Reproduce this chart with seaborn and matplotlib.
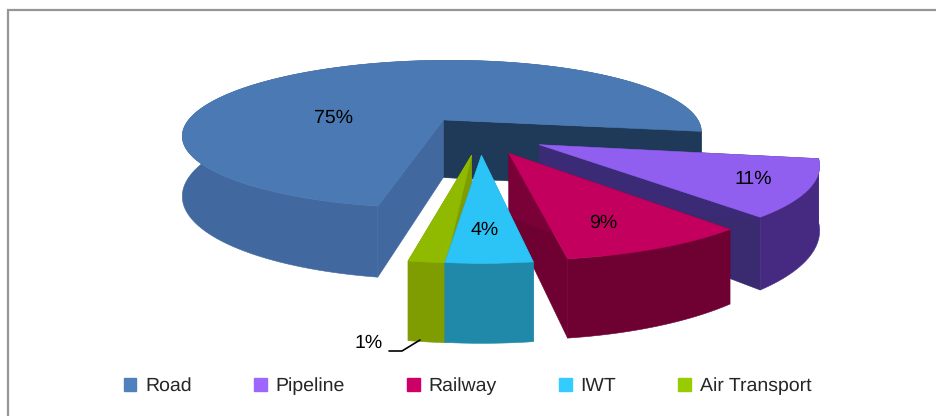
import numpy as np
import matplotlib
matplotlib.use("Agg")
import matplotlib.pyplot as plt
from matplotlib.patches import Patch, Polygon
import seaborn as sns

# Data
categories = ["Road", "Pipeline", "Railway", "IWT", "Air Transport"]
shares = [74.6, 11, 9, 4, 1.4]
legend_colors = ["#4f81bd", "#9f66ff", "#cc0066", "#33ccff", "#99cc00"]
top_colors = ["#4a79b3", "#915ff0", "#c4005e", "#2cc3f6", "#8fba00"]
rim_colors = ["#41699f", "#462a82", "#6e0032", "#2088a8", "#7f9c00"]
radial_start_colors = ["#1f3a58", "#3a2a70", "#6e0032", "#2088a8", "#7f9c00"]
radial_end_colors = ["#41699f", "#3b2a75", "#7a0038", "#2088a8", "#7f9c00"]

# Projection of the exploded 3-D pie
CX, CY, A, B, K, EXPLODE, HEIGHT = 480, 135, 265, 77, 0.20, 0.25, 60
START = -9.6  # angle where the second slice begins, degrees
ANGLE_NUDGE = [0.6, 0, 0, 0, 2.2]
SPAN_EXTRA = [0, 0, 0, 0, 1.2]

sns.set_theme(style="white")
plt.rcParams["font.family"] = ["Liberation Sans", "DejaVu Sans"]
plt.rcParams["text.hinting"] = "no_hinting"
FS = 14

fig = plt.figure(figsize=(9.36, 4.16), dpi=100, facecolor="white")
ax = fig.add_axes([0, 0, 1, 1])
ax.set_xlim(0, 936)
ax.set_ylim(416, 0)
ax.axis("off")
ax.plot([7.5, 7.5, 936], [416, 10, 10], color="#969696", lw=1.6, solid_joinstyle="miter")


def project(X, Y):
    s = 1 / (1 + K * Y)
    return CX + A * X * s, CY - B * Y * s, HEIGHT * s


def face(xs, ys, color, z):
    ax.add_patch(Polygon(np.column_stack([xs, ys]), closed=True, fc=color, ec=color, lw=0.4, zorder=z))


spans = np.array(shares) * 3.6
edges = []
cur = START
for sp in spans[1:]:
    edges.append((cur - sp, cur))
    cur -= sp
ranges = [(START, START + spans[0])] + edges

order = [1, 2, 3, 5, 4]
for i, (a0, a1) in enumerate(ranges):
    a0 = a0 + ANGLE_NUDGE[i] - SPAN_EXTRA[i]
    a1 = a1 + ANGLE_NUDGE[i]
    mid = np.radians((a0 + a1) / 2)
    ox, oy = EXPLODE * np.cos(mid), EXPLODE * np.sin(mid)
    th = np.radians(np.linspace(a0, a1, 160))
    X = ox + np.cos(th)
    Y = oy + np.sin(th)
    px, py, ph = project(X, Y)
    ax0, ay0, ah0 = project(ox, oy)
    z = order[i] * 10
    rim_z = z + 2 if i else z
    # radial walls (the road's stand in front of its rim)
    face([ax0, px[0], px[0], ax0], [ay0, py[0], py[0] + ph[0], ay0 + ah0], radial_start_colors[i], z + 1)
    face([ax0, px[-1], px[-1], ax0], [ay0, py[-1], py[-1] + ph[-1], ay0 + ah0], radial_end_colors[i], z + 1)
    # rim
    face(np.r_[px, px[::-1]], np.r_[py, (py + ph)[::-1]], rim_colors[i], rim_z)
    # top surface
    face(np.r_[ax0, px], np.r_[ay0, py], top_colors[i], z + 3)

# value labels
label_xy = [(334, 118), (753, 179), (603, 223), (485, 230), (369, 343)]
for (lx, ly), v in zip(label_xy, shares):
    ax.text(lx, ly, f"{round(v)}%", ha="center", va="center", fontsize=FS, color="black", zorder=100)
ax.plot([389, 402, 420], [351, 351, 340], color="black", lw=1.2, zorder=100)

handles = [Patch(fc=c, ec=c, label=n) for c, n in zip(legend_colors, categories)]
leg = ax.legend(handles=handles, ncol=5, loc="center", bbox_to_anchor=(467.5 / 936, 1 - 386 / 416),
                frameon=False, fontsize=FS, handlelength=0.65, handleheight=0.65,
                handletextpad=0.45, columnspacing=3.2, borderpad=0, labelspacing=0)
fig.savefig("out.png", dpi=100, facecolor="white")
